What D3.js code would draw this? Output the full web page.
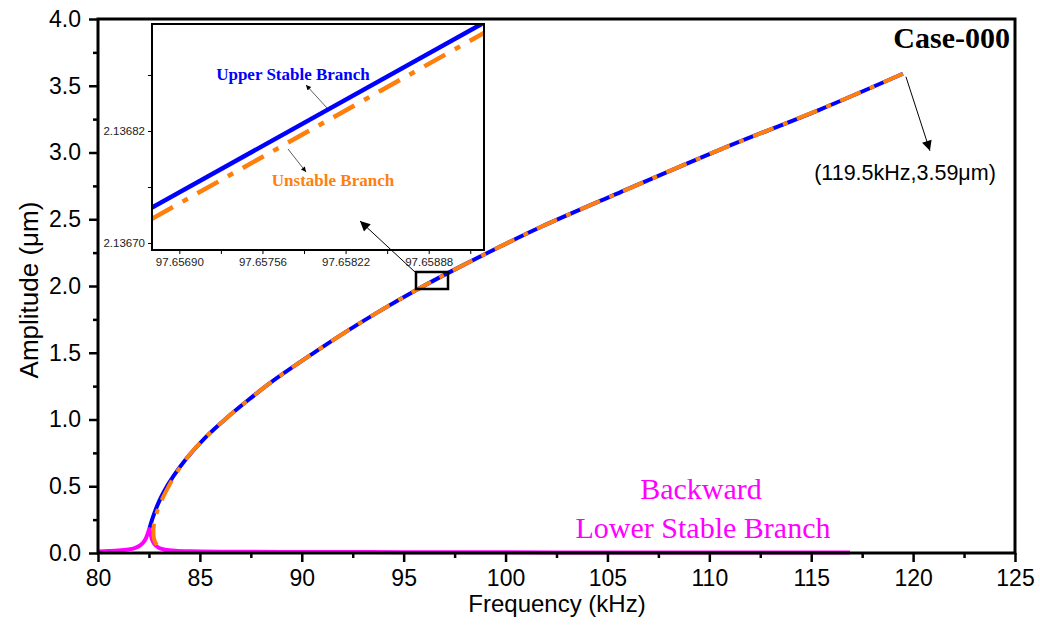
<!doctype html>
<html lang="en">
<head>
<meta charset="utf-8"/>
<title>Case-000 Amplitude vs Frequency</title>
<style>
    body { margin: 0; background: #fff; }
    .axis text { font-family: Arial, "Liberation Sans", sans-serif; fill: #000; }
    .inset .tick text { font-family: Arial, "Liberation Sans", sans-serif; fill: #222; }
</style>
<script src="https://d3js.org/d3.v7.min.js"></script>
</head>
<body>
<svg width="1040" height="633"></svg>
<script>

    // main chart data (kHz, um)
    var upperFreq = [82.52, 82.7, 82.95, 83.2, 83.7, 84.35, 85.3, 86.3, 87.45, 88.5, 90.5, 92.2, 93.8, 95.8, 97.4, 99.4, 101.7, 105.6, 110.5, 115.4, 119.5];
    var upperAmp  = [0.18, 0.27, 0.37, 0.45, 0.575, 0.71, 0.87, 1.01, 1.155, 1.28, 1.49, 1.66, 1.81, 1.985, 2.115, 2.27, 2.44, 2.70, 3.02, 3.32, 3.59];

    var unstableFreq = [82.88, 82.76, 82.72, 82.75, 82.88, 83.05, 83.35, 83.75, 84.35, 85.3, 86.3, 87.45, 88.5, 90.5, 92.2, 93.8, 95.8, 97.4, 99.4, 101.7, 105.6, 110.5, 115.4, 119.5];
    var unstableAmp  = [0.06, 0.10, 0.15, 0.22, 0.30, 0.37, 0.465, 0.575, 0.71, 0.87, 1.01, 1.155, 1.28, 1.49, 1.66, 1.81, 1.985, 2.115, 2.27, 2.44, 2.70, 3.02, 3.32, 3.59];

    var lowerFreq = [80, 80.5, 81, 81.5, 81.8, 82.0, 82.2, 82.35, 82.45, 82.52, 82.6, 82.68, 82.8, 83.0, 83.3, 83.8, 84.5, 86, 90, 95, 100, 105, 110, 116.9];
    var lowerAmp  = [0.012, 0.015, 0.019, 0.027, 0.037, 0.05, 0.075, 0.11, 0.15, 0.18, 0.13, 0.09, 0.06, 0.038, 0.025, 0.017, 0.013, 0.010, 0.008, 0.006, 0.005, 0.004, 0.0035, 0.003];

    var xTicks = [80, 85, 90, 95, 100, 105, 110, 115, 120, 125];
    var xMinorTicks = [82.5, 87.5, 92.5, 97.5, 102.5, 107.5, 112.5, 117.5, 122.5];
    var yTicks = [0, 0.5, 1.0, 1.5, 2.0, 2.5, 3.0, 3.5, 4.0];
    var yMinorTicks = [0.25, 0.75, 1.25, 1.75, 2.25, 2.75, 3.25, 3.75];

    // inset (zoomed) data
    var insetUpperFreq = [97.656683, 97.659319];
    var insetUpperAmp  = [2.136738, 2.136936];
    var insetUnstableFreq = [97.656683, 97.659319];
    var insetUnstableAmp  = [2.136726, 2.136925];
    var insetXTicks = [97.65690, 97.65756, 97.65822, 97.65888];
    var insetXMinor = [97.65723, 97.65789, 97.65855, 97.65921];
    var insetYTicks = [2.13670, 2.13682];
    var insetYMinor = [2.13676, 2.13688];

    var svg = d3.select("svg");
    svg.append("rect").attr("width", 1040).attr("height", 633).attr("fill", "#fff");

    var defs = svg.append("defs");
    function arrowMarker(id, w, h) {
        defs.append("marker")
            .attr("id", id)
            .attr("viewBox", "0 0 10 10")
            .attr("refX", 10).attr("refY", 5)
            .attr("markerUnits", "userSpaceOnUse")
            .attr("markerWidth", w).attr("markerHeight", h)
            .attr("orient", "auto")
            .append("path").attr("d", "M0,0L10,5L0,10z").attr("fill", "#000");
    }
    arrowMarker("bigHead", 15, 10);
    arrowMarker("smallHead", 8, 5);

    var x = d3.scaleLinear().domain([80, 125]).range([98, 1015]),
        y = d3.scaleLinear().domain([0, 4]).range([553, 19]);

    var line = d3.line()
        .x(function(d) { return x(d[0]); })
        .y(function(d) { return y(d[1]); })
        .curve(d3.curveCatmullRom.alpha(0.5));

    // curves
    svg.append("path")
       .attr("d", line(d3.zip(upperFreq, upperAmp)))
       .attr("fill", "none").attr("stroke", "#0000ff").attr("stroke-width", 4);

    svg.append("path")
       .attr("d", line(d3.zip(lowerFreq, lowerAmp)))
       .attr("fill", "none").attr("stroke", "#ff00ff").attr("stroke-width", 4);

    svg.append("path")
       .attr("d", line(d3.zip(unstableFreq, unstableAmp)))
       .attr("fill", "none").attr("stroke", "#ff7f0e").attr("stroke-width", 4)
       .attr("stroke-dasharray", "22,10,5,10");

    // axes
    var gx = svg.append("g").attr("class", "axis").attr("transform", "translate(0,553)")
        .call(d3.axisBottom(x).tickValues(xTicks).tickSize(9).tickSizeOuter(0).tickPadding(8)
            .tickFormat(d3.format("d")));
    gx.append("g").call(d3.axisBottom(x).tickValues(xMinorTicks).tickSize(5).tickSizeOuter(0).tickFormat(""));
    var gy = svg.append("g").attr("class", "axis").attr("transform", "translate(98,0)")
        .call(d3.axisLeft(y).tickValues(yTicks).tickSize(9).tickSizeOuter(0).tickPadding(8)
            .tickFormat(d3.format(".1f")));
    gy.append("g").call(d3.axisLeft(y).tickValues(yMinorTicks).tickSize(5).tickSizeOuter(0).tickFormat(""));
    svg.selectAll(".axis .domain").remove();
    svg.selectAll(".axis .tick line").attr("stroke-width", 2.5);
    svg.selectAll(".axis text").attr("font-size", 23);

    svg.append("rect")
       .attr("x", 98).attr("y", 19).attr("width", 917).attr("height", 534)
       .attr("fill", "none").attr("stroke", "#000").attr("stroke-width", 3);

    svg.append("text")
       .attr("x", 557).attr("y", 612)
       .attr("text-anchor", "middle")
       .attr("font-family", "Arial, 'Liberation Sans', sans-serif")
       .attr("font-size", 24)
       .text("Frequency (kHz)");

    svg.append("text")
       .attr("transform", "translate(38,290) rotate(-90)")
       .attr("text-anchor", "middle")
       .attr("font-family", "Arial, 'Liberation Sans', sans-serif")
       .attr("font-size", 26)
       .text("Amplitude (\u03bcm)");

    // labels
    svg.append("text")
       .attr("x", 1010).attr("y", 48)
       .attr("text-anchor", "end")
       .attr("font-family", "'Times New Roman', 'Liberation Serif', serif")
       .attr("font-weight", "bold")
       .attr("font-size", 30)
       .text("Case-000");

    svg.append("text")
       .attr("x", 701).attr("y", 499)
       .attr("text-anchor", "middle")
       .attr("font-family", "'Times New Roman', 'Liberation Serif', serif")
       .attr("font-size", 30)
       .attr("fill", "#ff00ff")
       .text("Backward");

    svg.append("text")
       .attr("x", 703).attr("y", 538)
       .attr("text-anchor", "middle")
       .attr("font-family", "'Times New Roman', 'Liberation Serif', serif")
       .attr("font-size", 30)
       .attr("fill", "#ff00ff")
       .text("Lower Stable Branch");

    // end-point annotation
    var endX = x(upperFreq[upperFreq.length - 1]), endY = y(upperAmp[upperAmp.length - 1]);
    svg.append("line")
       .attr("x1", endX + 3).attr("y1", endY + 3)
       .attr("x2", endX + 27).attr("y2", endY + 77)
       .attr("stroke", "#000").attr("stroke-width", 1)
       .attr("marker-end", "url(#bigHead)");

    svg.append("text")
       .attr("x", 905).attr("y", 180)
       .attr("text-anchor", "middle")
       .attr("font-family", "Arial, 'Liberation Sans', sans-serif")
       .attr("font-size", 21.5)
       .text("(119.5kHz,3.59\u03bcm)");

    // inset
    var xi = d3.scaleLinear().domain([97.656683, 97.659319]).range([152, 484]),
        yi = d3.scaleLinear().domain([2.1366925, 2.1369346]).range([250, 24]);

    var inset = svg.append("g").attr("class", "inset");
    inset.append("rect")
         .attr("x", 152).attr("y", 24).attr("width", 332).attr("height", 226)
         .attr("fill", "#fff");

    defs.append("clipPath").attr("id", "insetClip")
        .append("rect").attr("x", 152).attr("y", 24).attr("width", 332).attr("height", 226);

    var lineI = d3.line()
        .x(function(d) { return xi(d[0]); })
        .y(function(d) { return yi(d[1]); });

    inset.append("path")
         .attr("clip-path", "url(#insetClip)")
         .attr("d", lineI(d3.zip(insetUpperFreq, insetUpperAmp)))
         .attr("fill", "none").attr("stroke", "#0000ff").attr("stroke-width", 4.5);

    inset.append("path")
         .attr("clip-path", "url(#insetClip)")
         .attr("d", lineI(d3.zip(insetUnstableFreq, insetUnstableAmp)))
         .attr("fill", "none").attr("stroke", "#ff7f0e").attr("stroke-width", 4.5)
         .attr("stroke-dasharray", "24,11,6,11");

    var ix = inset.append("g").attr("transform", "translate(0,250)")
        .call(d3.axisBottom(xi).tickValues(insetXTicks).tickSize(4).tickSizeOuter(0).tickPadding(4)
            .tickFormat(d3.format(".5f")));
    ix.append("g").call(d3.axisBottom(xi).tickValues(insetXMinor).tickSize(4).tickSizeOuter(0).tickFormat(""));
    var iy = inset.append("g").attr("transform", "translate(152,0)")
        .call(d3.axisLeft(yi).tickValues(insetYTicks).tickSize(4).tickSizeOuter(0).tickPadding(3)
            .tickFormat(d3.format(".5f")));
    iy.append("g").call(d3.axisLeft(yi).tickValues(insetYMinor).tickSize(4).tickSizeOuter(0).tickFormat(""));
    inset.selectAll(".domain").remove();
    inset.selectAll(".tick text").attr("font-size", 11.5);

    inset.append("rect")
         .attr("x", 152).attr("y", 24).attr("width", 332).attr("height", 226)
         .attr("fill", "none").attr("stroke", "#000").attr("stroke-width", 2);

    inset.append("text")
         .attr("x", 293).attr("y", 80)
         .attr("text-anchor", "middle")
         .attr("font-family", "'Times New Roman', 'Liberation Serif', serif")
         .attr("font-weight", "bold").attr("font-size", 17)
         .attr("fill", "#0000ff")
         .text("Upper Stable Branch");

    inset.append("text")
         .attr("x", 333).attr("y", 186)
         .attr("text-anchor", "middle")
         .attr("font-family", "'Times New Roman', 'Liberation Serif', serif")
         .attr("font-weight", "bold").attr("font-size", 17)
         .attr("fill", "#ff7f0e")
         .text("Unstable Branch");

    inset.append("line")
         .attr("x1", 327).attr("y1", 108).attr("x2", 306).attr("y2", 85)
         .attr("stroke", "#333").attr("stroke-width", 0.8)
         .attr("marker-end", "url(#smallHead)");

    inset.append("line")
         .attr("x1", 288).attr("y1", 149).attr("x2", 306).attr("y2", 172)
         .attr("stroke", "#333").attr("stroke-width", 0.8)
         .attr("marker-end", "url(#smallHead)");

    // zoom box on the curve and pointer into the inset
    svg.append("rect")
       .attr("x", 416).attr("y", 272).attr("width", 32).attr("height", 17)
       .attr("fill", "none").attr("stroke", "#000").attr("stroke-width", 2.5);

    svg.append("line")
       .attr("x1", 415).attr("y1", 272).attr("x2", 360).attr("y2", 221)
       .attr("stroke", "#000").attr("stroke-width", 1)
       .attr("marker-end", "url(#bigHead)");

</script>
</body>
</html>
